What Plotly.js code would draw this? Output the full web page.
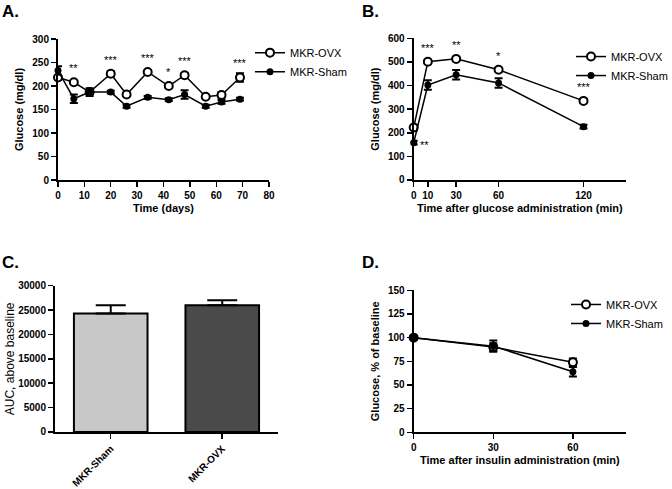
<!DOCTYPE html>
<html>
<head>
<meta charset="utf-8">
<script src="https://cdn.plot.ly/plotly-3.0.1.min.js"></script>
<style>
  html, body { margin: 0; padding: 0; background: #fff; }
  #graph { width: 672px; height: 489px; }
</style>
</head>
<body>
<div id="graph"></div>
<script>
// A. glucose over time
const daysA = [0, 6, 12, 20, 26, 34, 42, 48, 56, 62, 69];
const ovxA = [218, 208, 187, 226, 182, 230, 200, 223, 177, 181, 218];
const ovxAErr = [5, 3, 3, 6, 3, 3, 4, 4, 3, 6, 9];
const shamA = [233, 173, 187, 187, 157, 176, 171, 182, 157, 166, 172];
const shamAErr = [9, 9, 8, 3, 3, 3, 3, 9, 3, 4, 3];
const sigA = ['', '**', '', '***', '', '***', '*', '***', '', '', '***'];

// B. glucose tolerance
const minB = [0, 10, 30, 60, 120];
const ovxB = [222, 501, 513, 467, 335];
const ovxBErr = [12, 8, 8, 8, 8];
const shamB = [158, 402, 446, 411, 226];
const shamBErr = [8, 20, 20, 20, 8];
const sigB = ['**', '***', '**', '*', '***'];

// C. area under curve
const groupsC = ['MKR-Sham', 'MKR-OVX'];
const aucC = [24300, 26000];
const aucCErr = [1700, 1000];
const colorsC = ['#c8c8c8', '#4a4a4a'];

// D. insulin tolerance
const minD = [0, 30, 60];
const ovxD = [100, 90, 74];
const ovxDErr = [1, 4, 4];
const shamD = [100, 91, 64];
const shamDErr = [1, 6, 5];

const FONT = 'Arial, "Liberation Sans", sans-serif';

function ovxTrace(x, y, err, xa, ya, leg) {
  return {
    x, y, xaxis: xa, yaxis: ya, legend: leg,
    type: 'scatter', mode: 'lines+markers', name: 'MKR-OVX',
    line: { color: 'black', width: 1.5 },
    marker: { symbol: 'circle', size: 8, color: 'white', line: { color: 'black', width: 2 } },
    error_y: { type: 'data', array: err, color: 'black', thickness: 2, width: 4 },
    cliponaxis: false
  };
}
function shamTrace(x, y, err, xa, ya, leg) {
  return {
    x, y, xaxis: xa, yaxis: ya, legend: leg,
    type: 'scatter', mode: 'lines+markers', name: 'MKR-Sham',
    line: { color: 'black', width: 1.5 },
    marker: { symbol: 'circle', size: 7, color: 'black' },
    error_y: { type: 'data', array: err, color: 'black', thickness: 2, width: 4 },
    cliponaxis: false
  };
}

const traces = [
  ovxTrace(daysA, ovxA, ovxAErr, 'x', 'y', 'legend'),
  shamTrace(daysA, shamA, shamAErr, 'x', 'y', 'legend'),
  ovxTrace(minB, ovxB, ovxBErr, 'x2', 'y2', 'legend2'),
  shamTrace(minB, shamB, shamBErr, 'x2', 'y2', 'legend2'),
  {
    x: groupsC, y: aucC, xaxis: 'x3', yaxis: 'y3', type: 'bar', width: 0.66,
    showlegend: false,
    marker: { color: colorsC, line: { color: 'black', width: 2 } },
    error_y: { type: 'data', array: aucCErr, arrayminus: [0, 0], symmetric: false, color: 'black', thickness: 2, width: 15 }
  },
  ovxTrace(minD, ovxD, ovxDErr, 'x4', 'y4', 'legend3'),
  shamTrace(minD, shamD, shamDErr, 'x4', 'y4', 'legend3')
];

const tickFont = { family: FONT, size: 10, color: 'black', weight: 'bold' };
const titleFont = { family: FONT, size: 11, color: 'black', weight: 'bold' };
function axis(extra) {
  return Object.assign({
    showline: true, linecolor: 'black', linewidth: 2,
    ticks: 'outside', ticklen: 5, tickwidth: 1.5, tickcolor: 'black',
    showgrid: false, zeroline: false, tickfont: tickFont, fixedrange: true
  }, extra);
}

const annotations = [];
const starFont = { family: FONT, size: 11, color: 'black' };
sigA.forEach((s, i) => {
  if (!s) return;
  annotations.push({ x: daysA[i], y: Math.max(ovxA[i], shamA[i]) + 30, xref: 'x', yref: 'y',
    text: s, showarrow: false, font: starFont, yanchor: 'middle' });
});
sigB.forEach((s, i) => {
  if (i === 0) {
    annotations.push({ x: minB[i], y: shamB[i], xref: 'x2', yref: 'y2', text: s, showarrow: false,
      font: starFont, xanchor: 'left', xshift: 4, yanchor: 'middle', yshift: -2 });
    return;
  }
  annotations.push({ x: minB[i], y: Math.max(ovxB[i], shamB[i]) + 58, xref: 'x2', yref: 'y2',
    text: s, showarrow: false, font: starFont, yanchor: 'middle' });
});
[['A.', 0, 1], ['B.', 0.535, 1], ['C.', 0, 0.487], ['D.', 0.535, 0.487]].forEach(p => {
  annotations.push({ text: p[0], x: p[1], y: p[2], xref: 'paper', yref: 'paper', xanchor: 'left', yanchor: 'top',
    showarrow: false, font: { family: FONT, size: 17, color: 'black', weight: 'bold' } });
});

const legendBase = { font: { family: FONT, size: 11, color: 'black' }, xanchor: 'left', yanchor: 'top',
  bgcolor: 'rgba(0,0,0,0)', tracegroupgap: 0, itemwidth: 30 };

const layout = {
  width: 672, height: 489,
  margin: { l: 0, r: 0, t: 0, b: 0, autoexpand: false },
  paper_bgcolor: 'white', plot_bgcolor: 'white',
  font: { family: FONT, color: 'black' },
  xaxis: axis({ domain: [0.0863, 0.4003], range: [0, 80], dtick: 10, anchor: 'y',
    title: { text: 'Time (days)', font: titleFont, standoff: 4 } }),
  yaxis: axis({ domain: [0.6319, 0.9202], range: [0, 300], dtick: 50, anchor: 'x',
    title: { text: 'Glucose (mg/dl)', font: titleFont, standoff: 6 } }),
  xaxis2: axis({ domain: [0.6156, 0.9315], range: [0, 150], tickvals: minB, anchor: 'y2',
    title: { text: 'Time after glucose administration (min)', font: titleFont, standoff: 4 } }),
  yaxis2: axis({ domain: [0.6319, 0.9216], range: [0, 600], dtick: 100, anchor: 'x2',
    title: { text: 'Glucose (mg/dl)', font: titleFont, standoff: 6 } }),
  xaxis3: axis({ domain: [0.0818, 0.4137], type: 'category', range: [-0.5, 1.5], anchor: 'y3',
    tickangle: -45, tickfont: Object.assign({}, tickFont, { size: 10 }) }),
  yaxis3: axis({ domain: [0.1166, 0.4157], range: [0, 30000], dtick: 5000, anchor: 'x3', tickformat: 'd',
    title: { text: 'AUC, above baseline', font: { family: FONT, size: 12, color: 'black' }, standoff: 1 } }),
  xaxis4: axis({ domain: [0.6156, 0.9315], range: [0, 80], tickvals: minD, anchor: 'y4',
    title: { text: 'Time after insulin administration (min)', font: titleFont, standoff: 4 } }),
  yaxis4: axis({ domain: [0.1160, 0.4063], range: [0, 150], dtick: 25, anchor: 'x4',
    title: { text: 'Glucose, % of baseline', font: titleFont, standoff: 6 } }),
  legend: Object.assign({}, legendBase, { x: 0.372, y: 0.922 }),
  legend2: Object.assign({}, legendBase, { x: 0.8497, y: 0.914 }),
  legend3: Object.assign({}, legendBase, { x: 0.8423, y: 0.407 }),
  annotations
};

Plotly.newPlot('graph', traces, layout, { displayModeBar: false, staticPlot: true });
</script>
</body>
</html>
